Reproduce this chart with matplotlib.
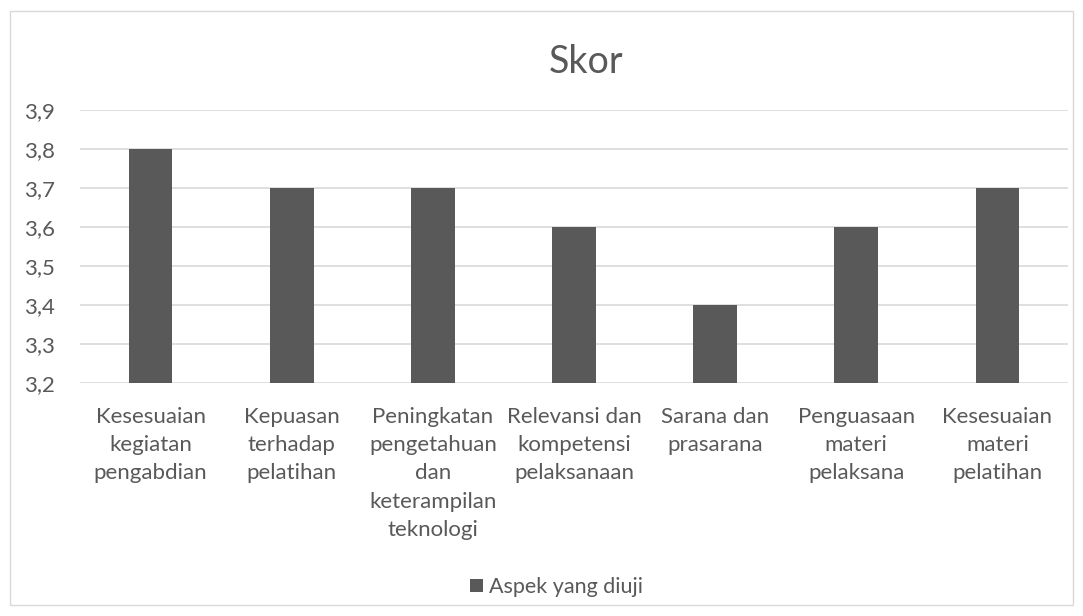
import matplotlib.pyplot as plt
from matplotlib.patches import Rectangle

categories = ['Kesesuaian\nkegiatan\npengabdian', 'Kepuasan\nterhadap\npelatihan',
              'Peningkatan\npengetahuan\ndan\nketerampilan\nteknologi',
              'Relevansi dan\nkompetensi\npelaksanaan', 'Sarana dan\nprasarana',
              'Penguasaan\nmateri\npelaksana', 'Kesesuaian\nmateri\npelatihan']
scores = [3.8, 3.7, 3.7, 3.6, 3.4, 3.6, 3.7]
yticks = [3.2, 3.3, 3.4, 3.5, 3.6, 3.7, 3.8, 3.9]

plt.rcParams['font.family'] = ['Lato', 'DejaVu Sans']
txt = '#595959'

fig = plt.figure(figsize=(10.83, 6.16), dpi=100)
fig.patches.append(Rectangle((10/1083, 11/616), 1063/1083, 594/616, transform=fig.transFigure,
                             fill=False, edgecolor='#d9d9d9', linewidth=1))
ax = fig.add_axes([80/1083, 1 - 383/616, 988/1083, 273/616])

x = range(len(categories))
ax.bar(x, scores, width=0.31, color='#595959', label='Aspek yang diuji', zorder=3)
ax.set_ylim(3.2, 3.9)
ax.set_xlim(-0.5, len(categories) - 0.5)
ax.set_yticks(yticks)
ax.set_yticklabels([f'{v:.1f}'.replace('.', ',') for v in yticks])
ax.set_xticks(list(x))
ax.set_xticklabels(categories, linespacing=1.52, va='top')
ax.tick_params(axis='both', length=0, colors=txt, labelsize=16)
ax.tick_params(axis='x', pad=17)
ax.tick_params(axis='y', pad=18)
ax.grid(axis='y', color='#d9d9d9', linewidth=1.2, zorder=0)
for s in ax.spines.values():
    s.set_visible(False)

fig.text(0.541, 1 - 62/616, 'Skor', ha='center', va='center', fontsize=27, color=txt)
fig.legend(loc='center', bbox_to_anchor=(0.514, 1 - 587/616), frameon=False,
           fontsize=15.5, labelcolor=txt, handlelength=0.6, handleheight=0.6, handletextpad=0.3)

fig.savefig('out.png', dpi=100)
